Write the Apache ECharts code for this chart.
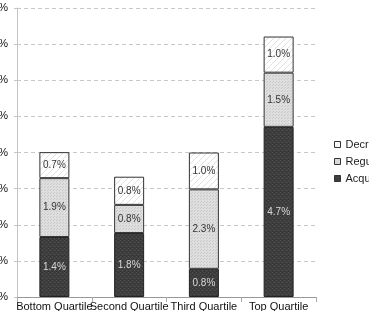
<!DOCTYPE html>
<html>
<head>
<meta charset="utf-8">
<script src="https://cdn.jsdelivr.net/npm/echarts@6/dist/echarts.min.js"></script>
<style>
  html, body { margin: 0; padding: 0; background: #fff; }
  #chart { width: 369px; height: 311px; }
</style>
</head>
<body>
<div id="chart"></div>
<script>
// categories and stacked values
const categories = ['Bottom Quartile', 'Second Quartile', 'Third Quartile', 'Top Quartile'];
const acquisition = [1.66, 1.77, 0.78, 4.71];
const regular = [1.63, 0.78, 2.2, 1.5];
const decrease = [0.72, 0.78, 1.02, 1.0];
// labels printed inside the segments
const acquisitionText = ['1.4%', '1.8%', '0.8%', '4.7%'];
const regularText = ['1.9%', '0.8%', '2.3%', '1.5%'];
const decreaseText = ['0.7%', '0.8%', '1.0%', '1.0%'];
const yTicks = ['0%', '1%', '2%', '3%', '4%', '5%', '6%', '7%', '8%'];

// fill patterns, drawn once on small canvases
function makePattern(size, draw) {
  const c = document.createElement('canvas');
  c.width = size;
  c.height = size;
  draw(c.getContext('2d'));
  return { image: c, repeat: 'repeat' };
}
const darkFill = makePattern(4, (ctx) => {
  ctx.fillStyle = '#3e3e3e';
  ctx.fillRect(0, 0, 4, 4);
  ctx.fillStyle = '#505050';
  ctx.fillRect(0, 0, 1, 1);
  ctx.fillRect(2, 2, 1, 1);
  ctx.fillStyle = '#323232';
  ctx.fillRect(2, 0, 1, 1);
  ctx.fillRect(0, 3, 1, 1);
});
const dotFill = makePattern(3, (ctx) => {
  ctx.fillStyle = '#dedede';
  ctx.fillRect(0, 0, 3, 3);
  ctx.fillStyle = '#c8c8c8';
  ctx.fillRect(0, 0, 1, 1);
  ctx.fillRect(2, 1, 1, 1);
});
const hatchFill = makePattern(6, (ctx) => {
  ctx.fillStyle = '#ffffff';
  ctx.fillRect(0, 0, 6, 6);
  ctx.strokeStyle = '#e0e0e0';
  ctx.lineWidth = 1;
  ctx.beginPath();
  ctx.moveTo(0, 6); ctx.lineTo(6, 0);
  ctx.moveTo(-3, 3); ctx.lineTo(3, -3);
  ctx.moveTo(3, 9); ctx.lineTo(9, 3);
  ctx.stroke();
});

function segLabel(texts, color) {
  return {
    show: true,
    position: 'inside',
    color: color,
    fontFamily: 'Liberation Sans',
    fontSize: 10,
    formatter: (p) => texts[p.dataIndex]
  };
}

const chart = echarts.init(document.getElementById('chart'));
chart.setOption({
  animation: false,
  backgroundColor: '#fff',
  grid: { left: 17, right: 53, top: 8, bottom: 14, containLabel: false, outerBoundsMode: 'none' },
  legend: {
    orient: 'vertical',
    left: 329,
    top: 133,
    itemWidth: 6,
    itemHeight: 6,
    itemGap: 4,
    icon: 'rect',
    data: ['Decrease', 'Regular', 'Acquisition'],
    textStyle: { fontFamily: 'Liberation Sans', fontSize: 11, color: '#222', lineHeight: 13 },
    itemStyle: { borderColor: '#333', borderWidth: 1 }
  },
  xAxis: {
    type: 'category',
    data: categories,
    axisLine: { lineStyle: { color: '#999' } },
    axisTick: { show: true, lineStyle: { color: '#aaa' } },
    axisLabel: { interval: 0, margin: 4, color: '#111', fontFamily: 'Liberation Sans', fontSize: 11 }
  },
  yAxis: {
    type: 'value',
    min: 0,
    max: 8,
    interval: 1,
    axisLine: { show: true, lineStyle: { color: '#c4c4c4' } },
    axisTick: { show: true, length: 3, lineStyle: { color: '#c4c4c4' } },
    axisLabel: {
      margin: 9,
      color: '#111',
      fontFamily: 'Liberation Sans',
      fontSize: 11,
      formatter: (v) => yTicks[Math.round(v)]
    },
    splitLine: { lineStyle: { color: '#c8c8c8', type: [4, 3] } }
  },
  series: [
    {
      name: 'Acquisition',
      type: 'bar',
      stack: 'total',
      barWidth: 30,
      data: acquisition,
      itemStyle: { color: darkFill, borderColor: '#222', borderWidth: 1 },
      label: segLabel(acquisitionText, '#d8d8d8')
    },
    {
      name: 'Regular',
      type: 'bar',
      stack: 'total',
      barWidth: 30,
      data: regular,
      itemStyle: { color: dotFill, borderColor: '#333', borderWidth: 1 },
      label: segLabel(regularText, '#333')
    },
    {
      name: 'Decrease',
      type: 'bar',
      stack: 'total',
      barWidth: 30,
      data: decrease,
      itemStyle: { color: hatchFill, borderColor: '#333', borderWidth: 1 },
      label: segLabel(decreaseText, '#333')
    }
  ]
});
</script>
</body>
</html>
